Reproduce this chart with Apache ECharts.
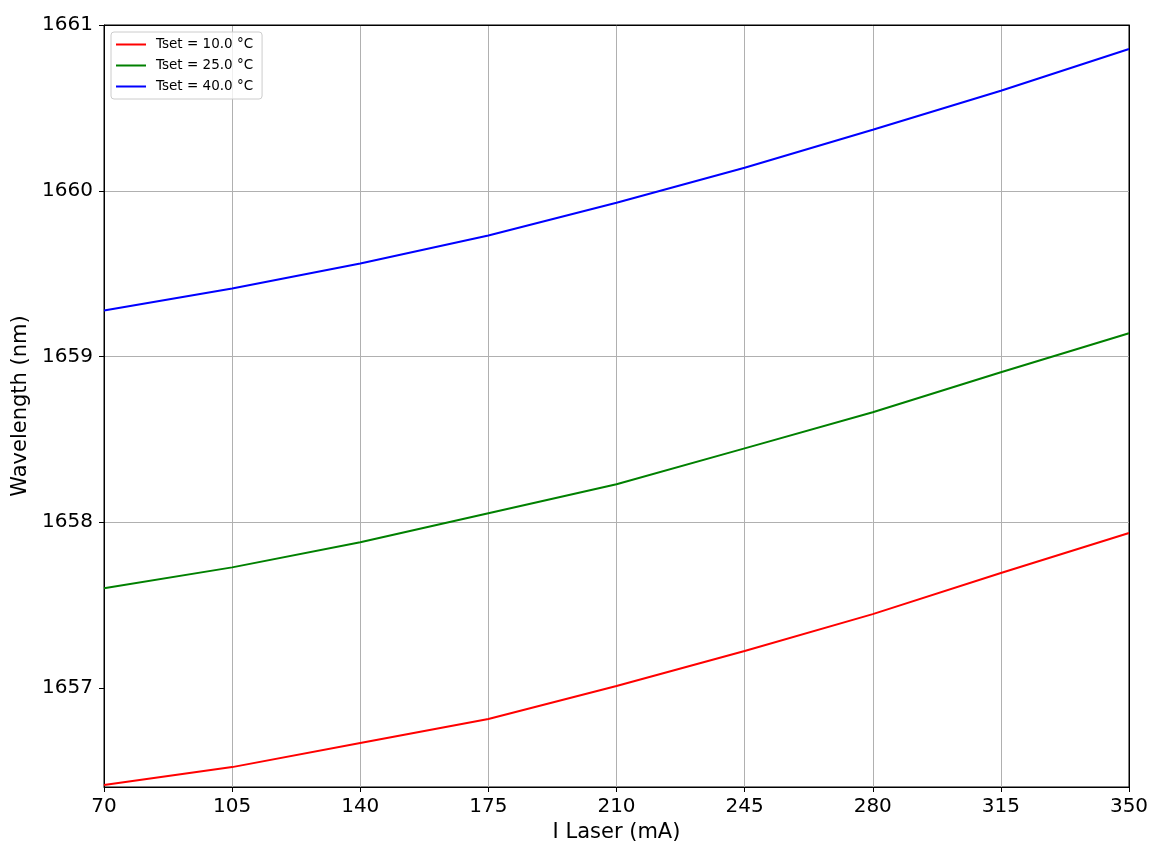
<!DOCTYPE html>
<html>
<head>
<meta charset="utf-8">
<script src="https://cdn.jsdelivr.net/npm/echarts@6/dist/echarts.min.js"></script>
<style>
html,body{margin:0;padding:0;background:#fff;}
#chart{width:1161px;height:848px;}
</style>
</head>
<body>
<div id="chart"></div>
<script>
var currents = [70, 105, 140, 175, 210, 245, 280, 315, 350];
var seriesNames = ['Tset = 10.0 °C', 'Tset = 25.0 °C', 'Tset = 40.0 °C'];
var wl10 = [1656.415, 1656.523, 1656.668, 1656.813, 1657.012, 1657.223, 1657.446, 1657.694, 1657.935];
var wl25 = [1657.602, 1657.728, 1657.879, 1658.054, 1658.229, 1658.446, 1658.664, 1658.905, 1659.140];
var wl40 = [1659.278, 1659.410, 1659.561, 1659.730, 1659.928, 1660.139, 1660.368, 1660.603, 1660.855];
var xTicks = [70, 105, 140, 175, 210, 245, 280, 315, 350];
var yTicks = [1657, 1658, 1659, 1660, 1661];
var colors = ['#ff0000', '#008000', '#0000ff'];

function pairs(ys) { return currents.map(function (x, i) { return [x, ys[i]]; }); }
var allData = [wl10, wl25, wl40];

var chart = echarts.init(document.getElementById('chart'));
var font = 'DejaVu Sans';
chart.setOption({
  animation: false,
  grid: { left: 104, right: 32, top: 25, bottom: 61, show: true, borderColor: '#000', borderWidth: 1, backgroundColor: 'transparent' },
  legend: {
    orient: 'vertical', left: 111, top: 32,
    data: seriesNames,
    icon: 'rect', itemWidth: 30, itemHeight: 2, itemGap: 0,
    padding: [2, 9, 2, 5],
    borderColor: '#cccccc', borderWidth: 1, borderRadius: 3, backgroundColor: 'rgba(255,255,255,0.8)',
    textStyle: { fontFamily: font, fontSize: 13.5, color: '#000', lineHeight: 21, padding: [0, 0, 0, 5] }
  },
  xAxis: [{
    type: 'value', min: 70, max: 350, interval: 35,
    name: 'I Laser (mA)', nameLocation: 'middle', nameGap: 34,
    nameTextStyle: { fontFamily: font, fontSize: 21, color: '#000' },
    axisLine: { show: true, lineStyle: { color: '#000', width: 1 } },
    axisTick: { show: true, length: 5, inside: false, lineStyle: { color: '#000' } },
    axisLabel: { fontFamily: font, fontSize: 20, color: '#000', margin: 10 },
    splitLine: { show: true, showMinLine: false, showMaxLine: false, lineStyle: { color: '#b0b0b0', width: 1 } }
  }, {
    type: 'value', min: 70, max: 350, position: 'top', z: 10,
    axisLine: { show: true, lineStyle: { color: '#000', width: 1 } },
    axisTick: { show: false }, axisLabel: { show: false }, splitLine: { show: false }
  }],
  yAxis: [{
    type: 'value', min: 1656.403, max: 1661,
    name: 'Wavelength (nm)', nameLocation: 'middle', nameGap: 64,
    nameTextStyle: { fontFamily: font, fontSize: 21, color: '#000' },
    axisLine: { show: true, lineStyle: { color: '#000', width: 1 } },
    axisTick: { show: true, length: 5, inside: false, lineStyle: { color: '#000' }, customValues: yTicks },
    axisLabel: { fontFamily: font, fontSize: 20, color: '#000', margin: 11, customValues: yTicks, formatter: function (v) { return String(Math.round(v)); } },
    splitLine: { show: true, showMinLine: false, showMaxLine: false, lineStyle: { color: '#b0b0b0', width: 1 } }
  }, {
    type: 'value', min: 1656.403, max: 1661, position: 'right', z: 10,
    axisLine: { show: true, lineStyle: { color: '#000', width: 1 } },
    axisTick: { show: false }, axisLabel: { show: false }, splitLine: { show: false }
  }],
  series: seriesNames.map(function (n, i) {
    return {
      name: n, type: 'line', data: pairs(allData[i]), symbol: 'none',
      xAxisIndex: 0, yAxisIndex: 0,
      lineStyle: { color: colors[i], width: 2 }, itemStyle: { color: colors[i] }
    };
  })
});
</script>
</body>
</html>
